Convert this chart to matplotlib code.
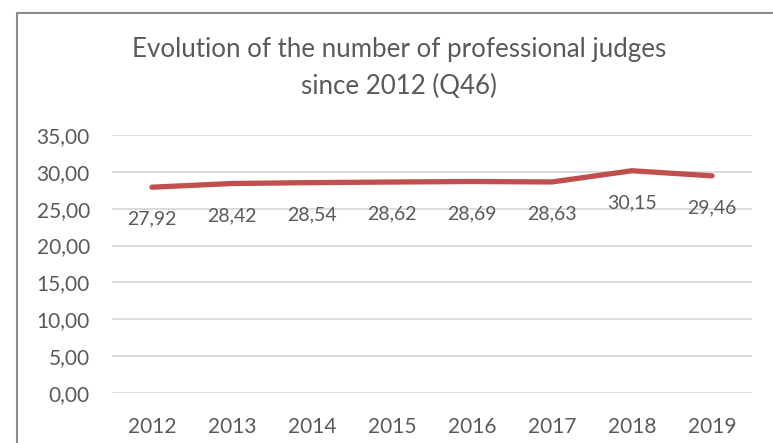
import matplotlib.pyplot as plt
from matplotlib.patches import Rectangle

years = ["2012", "2013", "2014", "2015", "2016", "2017", "2018", "2019"]
judges = [27.92, 28.42, 28.54, 28.62, 28.69, 28.63, 30.15, 29.46]
yticks = [0, 5, 10, 15, 20, 25, 30, 35]

plt.rcParams['font.family'] = ['Lato', 'DejaVu Sans']
grey = '#595959'

fig = plt.figure(figsize=(7.73, 4.43), dpi=100)
W, H = 773, 443
ax = fig.add_axes([112 / W, 1 - 393 / H, 640 / W, (393 - 135) / H])

x = list(range(len(years)))
ax.plot(x, judges, color='#C0504D', lw=3.8, solid_capstyle='round', zorder=3)
for xi, v in zip(x, judges):
    ax.annotate(f"{v:.2f}".replace('.', ','), (xi, v), xytext=(0, -23),
                textcoords='offset points', ha='center', va='center',
                fontsize=14, color=grey)

ax.set_xlim(-0.5, len(years) - 0.5)
ax.set_ylim(0, 35)
ax.set_yticks(yticks)
ax.set_yticklabels([f"{t:.2f}".replace('.', ',') for t in yticks])
ax.set_xticks(x)
ax.set_xticklabels(years)
ax.tick_params(length=0, labelsize=15, colors=grey)
ax.tick_params(axis='y', pad=16)
ax.tick_params(axis='x', pad=17)
ax.grid(axis='y', color='#D9D9D9', lw=1.3)
ax.set_axisbelow(True)
for s in ax.spines.values():
    s.set_visible(False)

# chart border
fig.patches.append(Rectangle((17 / W, -0.1), 1.2, 1 - 13 / H + 0.1,
                             transform=fig.transFigure, fill=False,
                             edgecolor='#8C8C8C', lw=1.5))

fig.text(399 / W, 1 - 50 / H, "Evolution of the number of professional judges",
         ha='center', va='center', fontsize=18.6, color=grey)
fig.text(399 / W, 1 - 86 / H, "since 2012 (Q46)",
         ha='center', va='center', fontsize=18.6, color=grey)

fig.savefig('out.png', dpi=100)
